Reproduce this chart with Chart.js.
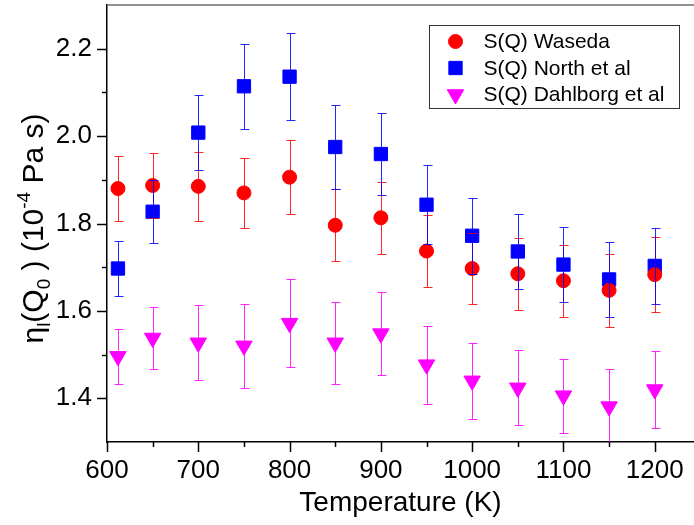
<!DOCTYPE html>
<html>
<head>
<meta charset="utf-8">
<script src="https://cdn.jsdelivr.net/npm/chart.js@4.4.1/dist/chart.umd.min.js"></script>
<style>
  html, body { margin: 0; padding: 0; background: #fff; }
  #wrap { width: 694px; height: 525px; }
</style>
</head>
<body>
<div id="wrap"><canvas id="viscChart"></canvas></div>
<script>
// values
const temperatures = [612, 650, 700, 750, 800, 850, 900, 950, 1000, 1050, 1100, 1150, 1200];
const waseda = [1.880, 1.887, 1.885, 1.870, 1.906, 1.796, 1.813, 1.737, 1.697, 1.685, 1.669, 1.647, 1.683];
const wasedaErr = [0.074, 0.075, 0.079, 0.081, 0.085, 0.082, 0.083, 0.083, 0.081, 0.082, 0.082, 0.083, 0.086];
const north = [1.697, 1.827, 2.008, 2.114, 2.136, 1.975, 1.959, 1.843, 1.772, 1.736, 1.706, 1.672, 1.703];
const northErr = [0.064, 0.072, 0.086, 0.097, 0.100, 0.096, 0.094, 0.090, 0.087, 0.086, 0.085, 0.085, 0.087];
const dahlborg = [1.496, 1.538, 1.527, 1.520, 1.572, 1.527, 1.548, 1.477, 1.440, 1.424, 1.406, 1.381, 1.420];
const dahlborgErr = [0.063, 0.072, 0.086, 0.096, 0.100, 0.094, 0.095, 0.089, 0.087, 0.086, 0.085, 0.087, 0.088];

const seriesNames = ["S(Q) Waseda", "S(Q) North et al", "S(Q) Dahlborg et al"];
const xTickLabels = [600, 700, 800, 900, 1000, 1100, 1200];
const yTickLabels = [1.4, 1.6, 1.8, 2.0, 2.2];
const xTitle = "Temperature (K)";

const FONT = '"Liberation Sans", Arial, Helvetica, sans-serif';

const toPoints = (vals) => vals.map((v, i) => ({ x: temperatures[i], y: v }));
const isYLabel = (v) => yTickLabels.some((t) => Math.abs(t - v) < 1e-6);

// vertical error bars with caps, drawn on top of all markers
const errorBars = {
  id: "errorBars",
  afterDatasetsDraw(chart) {
    const { ctx, chartArea, scales: { x, y } } = chart;
    ctx.save();
    ctx.beginPath();
    ctx.rect(chartArea.left, chartArea.top, chartArea.width, chartArea.height);
    ctx.clip();
    ctx.lineWidth = 1;
    chart.data.datasets.forEach((ds) => {
      ctx.strokeStyle = ds.errColor;
      ds.data.forEach((pt, i) => {
        const px = Math.round(x.getPixelForValue(pt.x)) + 0.5;
        const top = Math.round(y.getPixelForValue(pt.y + ds.errors[i])) + 0.5;
        const bot = Math.round(y.getPixelForValue(pt.y - ds.errors[i])) + 0.5;
        ctx.beginPath();
        ctx.moveTo(px, top);
        ctx.lineTo(px, bot);
        ctx.moveTo(px - 4, top);
        ctx.lineTo(px + 5, top);
        ctx.moveTo(px - 4, bot);
        ctx.lineTo(px + 5, bot);
        ctx.stroke();
      });
    });
    ctx.restore();
  },
};

// outward major / minor ticks, top frame line, y title, legend box
const decorations = {
  id: "decorations",
  afterDraw(chart) {
    const { ctx, chartArea, scales: { x, y } } = chart;
    ctx.save();

    ctx.strokeStyle = "#000";
    ctx.lineWidth = 1.5;
    x.ticks.forEach((t) => {
      const len = xTickLabels.includes(t.value) ? 10 : 5;
      const px = Math.round(x.getPixelForValue(t.value)) + 0.5;
      ctx.beginPath();
      ctx.moveTo(px, chartArea.bottom);
      ctx.lineTo(px, chartArea.bottom + len);
      ctx.stroke();
    });
    y.ticks.forEach((t) => {
      if (t.value <= y.min + 1e-6 || t.value >= y.max - 1e-6) return;
      const len = isYLabel(t.value) ? 10 : 5;
      const py = Math.round(y.getPixelForValue(t.value)) + 0.5;
      ctx.beginPath();
      ctx.moveTo(chartArea.left, py);
      ctx.lineTo(chartArea.left - len, py);
      ctx.stroke();
    });

    ctx.strokeStyle = "#6e6e6e";
    ctx.lineWidth = 1.5;
    ctx.beginPath();
    ctx.moveTo(chartArea.left, chartArea.top);
    ctx.lineTo(chartArea.right, chartArea.top);
    ctx.stroke();

    // y axis title with sub/superscripts
    const big = 30, small = 19;
    const parts = [
      { t: "\u03b7", s: big, dy: 0 },
      { t: "l", s: small, dy: 7 },
      { t: "(Q", s: big, dy: 0 },
      { t: "0", s: small, dy: 7 },
      { t: " ) (10", s: big, dy: 0 },
      { t: "-4", s: small, dy: -13 },
      { t: " Pa s)", s: big, dy: 0 },
    ];
    let total = 0;
    parts.forEach((p) => {
      ctx.font = `${p.s}px ${FONT}`;
      p.w = ctx.measureText(p.t).width;
      total += p.w;
    });
    ctx.translate(43, (chartArea.top + chartArea.bottom) / 2 + 5);
    ctx.rotate(-Math.PI / 2);
    ctx.fillStyle = "#000";
    ctx.textBaseline = "alphabetic";
    ctx.textAlign = "left";
    let cx = -total / 2;
    parts.forEach((p) => {
      ctx.font = `${p.s}px ${FONT}`;
      ctx.fillText(p.t, cx, p.dy);
      cx += p.w;
    });
    ctx.setTransform(1, 0, 0, 1, 0, 0);
    ctx.restore();

    // legend
    ctx.save();
    const boxW = 250, boxH = 83;
    const bx = Math.round(chartArea.right - 15 - boxW) + 0.5;
    const by = Math.round(chartArea.top + 20) + 0.5;
    ctx.strokeStyle = "#333";
    ctx.lineWidth = 1;
    ctx.strokeRect(bx, by, boxW, boxH);
    ctx.font = `21px ${FONT}`;
    ctx.textBaseline = "middle";
    ctx.fillStyle = "#000";
    chart.data.datasets.forEach((ds, i) => {
      const ly = by + 16 + i * 26.5;
      ctx.fillStyle = ds.backgroundColor;
      ctx.strokeStyle = ds.borderColor;
      Chart.helpers.drawPoint(ctx, {
        pointStyle: ds.pointStyle,
        radius: ds.pointRadius,
        rotation: ds.pointRotation || 0,
        borderWidth: 1,
      }, bx + 26, ly);
      ctx.fillStyle = "#000";
      ctx.fillText(ds.label, bx + 54, ly + 1);
    });
    ctx.restore();
  },
};

const ctx = document.getElementById("viscChart").getContext("2d");

new Chart(ctx, {
  type: "scatter",
  data: {
    datasets: [
      {
        label: seriesNames[0],
        data: toPoints(waseda),
        errors: wasedaErr,
        errColor: "rgba(255, 0, 0, 0.85)",
        backgroundColor: "#ff0000",
        borderColor: "#ff0000",
        pointStyle: "circle",
        pointRadius: 7,
        pointBorderWidth: 1,
      },
      {
        label: seriesNames[1],
        data: toPoints(north),
        errors: northErr,
        errColor: "rgba(0, 0, 255, 0.85)",
        backgroundColor: "#0000ff",
        borderColor: "#0000ff",
        pointStyle: "rect",
        pointRadius: 9.4,
        pointBorderWidth: 1,
      },
      {
        label: seriesNames[2],
        data: toPoints(dahlborg),
        errors: dahlborgErr,
        errColor: "rgba(255, 0, 255, 0.85)",
        backgroundColor: "#ff00ff",
        borderColor: "#ff00ff",
        pointStyle: "triangle",
        pointRotation: 180,
        pointRadius: 9.5,
        pointBorderWidth: 1,
      },
    ],
  },
  options: {
    responsive: true,
    maintainAspectRatio: false,
    animation: false,
    layout: { padding: { top: 5, left: 0, right: 0, bottom: 0 }, autoPadding: false },
    plugins: {
      legend: { display: false },
      tooltip: { enabled: false },
    },
    scales: {
      x: {
        type: "linear",
        min: 600,
        max: 1243,
        grid: { display: false, drawTicks: false },
        border: { display: true, color: "#000", width: 1.5 },
        ticks: {
          stepSize: 50,
          includeBounds: false,
          autoSkip: false,
          maxRotation: 0,
          padding: 13,
          color: "#000",
          font: { family: FONT, size: 26 },
          callback: (v) => (xTickLabels.includes(v) ? String(v) : ""),
        },
        title: {
          display: true,
          text: xTitle,
          color: "#000",
          font: { family: FONT, size: 28 },
          padding: { top: 0, bottom: 5 },
        },
        afterFit: (s) => {
          s.height = 83;
          s.paddingLeft = 0;
          s.paddingRight = 0;
        },
      },
      y: {
        min: 1.3,
        max: 2.3,
        grid: { display: false, drawTicks: false },
        border: { display: true, color: "#000", width: 1.5 },
        ticks: {
          stepSize: 0.1,
          includeBounds: false,
          autoSkip: false,
          padding: 15,
          color: "#000",
          font: { family: FONT, size: 26 },
          callback: (v) => (isYLabel(v) ? v.toFixed(1) : ""),
        },
        afterFit: (s) => {
          s.width = 107;
          s.paddingTop = 0;
          s.paddingBottom = 0;
        },
      },
    },
  },
  plugins: [errorBars, decorations],
});
</script>
</body>
</html>
